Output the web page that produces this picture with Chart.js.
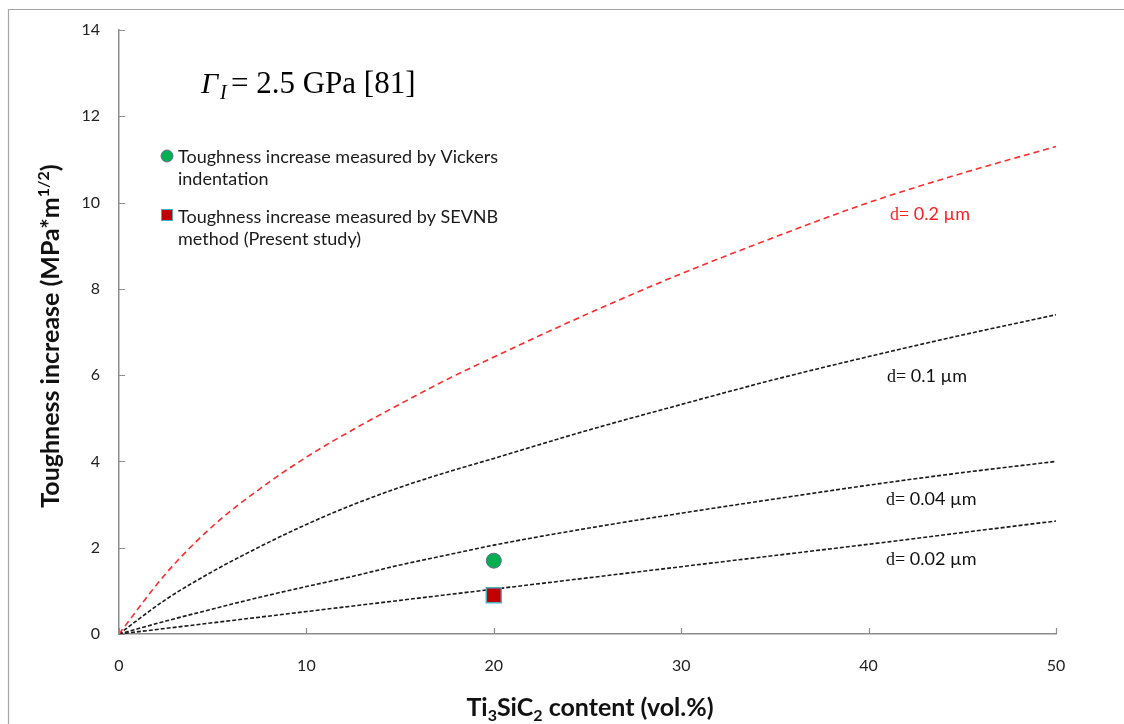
<!DOCTYPE html>
<html>
<head>
<meta charset="utf-8">
<title>Toughness increase vs Ti3SiC2 content</title>
<script src="https://cdn.jsdelivr.net/npm/chart.js@4/dist/chart.umd.min.js"></script>
<style>
  html, body { margin: 0; padding: 0; background: #ffffff; }
  #wrap { position: relative; width: 1124px; height: 724px; }
</style>
</head>
<body>
<div id="wrap"><canvas id="chart" width="1124" height="724"></canvas></div>
<script>
// Ti3SiC2 content (vol.%) at which the model curves are sampled
const contentPct = [0, 2.5, 5, 7.5, 10, 12.5, 15, 17.5, 20, 25, 30, 35, 40, 45, 50];

// Predicted toughness increase (MPa*m^1/2) for each particle size d
const toughnessD020 = [0, 1.40, 2.50, 3.36, 4.10, 4.74, 5.33, 5.90, 6.42, 7.42, 8.35, 9.20, 10.00, 10.68, 11.30];
const toughnessD010 = [0, 0.80, 1.45, 2.02, 2.54, 3.00, 3.40, 3.75, 4.07, 4.72, 5.32, 5.90, 6.43, 6.93, 7.40];
const toughnessD004 = [0, 0.30, 0.58, 0.85, 1.10, 1.34, 1.60, 1.83, 2.06, 2.45, 2.80, 3.13, 3.45, 3.74, 4.00];
const toughnessD002 = [0, 0.13, 0.26, 0.39, 0.52, 0.65, 0.78, 0.91, 1.04, 1.30, 1.56, 1.82, 2.08, 2.35, 2.62];

// Measured toughness increase at 20 vol.% Ti3SiC2
const measuredContent = [20];
const vickersToughness = [1.7];
const sevnbToughness = [0.9];

// Axis ticks
const xTickValues = [0, 10, 20, 30, 40, 50];
const yTickValues = [0, 2, 4, 6, 8, 10, 12, 14];

// Curve captions
const curveLabels = ['d= 0.2 \u00b5m', 'd= 0.1 \u00b5m', 'd= 0.04 \u00b5m', 'd= 0.02 \u00b5m'];

const toPoints = (xs, ys) => xs.map((x, i) => ({ x: x, y: ys[i] }));

const SANS = 'Lato, "Open Sans", "Liberation Sans", sans-serif';
const SERIF = '"Liberation Serif", "DejaVu Serif", serif';
const AXIS_COLOR = '#8c8c8c';

function curveDataset(values, color, dash) {
  return {
    type: 'line',
    data: toPoints(contentPct, values),
    borderColor: color,
    borderWidth: 1.6,
    borderDash: dash,
    pointRadius: 0,
    fill: false,
    cubicInterpolationMode: 'monotone',
    order: 2
  };
}

// Draws the frame, inward tick marks, headline, legend, captions and axis titles
const annotations = {
  id: 'annotations',
  afterDraw(chart) {
    const ctx = chart.ctx;
    const area = chart.chartArea;
    const xs = chart.scales.x;
    const ys = chart.scales.y;
    ctx.save();

    // outer frame (left and top edges)
    ctx.strokeStyle = '#a6a6a6';
    ctx.lineWidth = 1.2;
    ctx.beginPath();
    ctx.moveTo(8.5, 724);
    ctx.lineTo(8.5, 9.5);
    ctx.lineTo(1124, 9.5);
    ctx.stroke();

    // inward tick marks
    ctx.strokeStyle = AXIS_COLOR;
    ctx.lineWidth = 1.2;
    ctx.beginPath();
    yTickValues.forEach(v => {
      const py = Math.round(ys.getPixelForValue(v)) + 0.5;
      ctx.moveTo(area.left, py);
      ctx.lineTo(area.left + 6, py);
    });
    xTickValues.forEach(v => {
      const px = Math.round(xs.getPixelForValue(v)) + 0.5;
      ctx.moveTo(px, area.bottom);
      ctx.lineTo(px, area.bottom - 6);
    });
    ctx.stroke();

    // headline: Gamma_I = 2.5 GPa [81]
    ctx.fillStyle = '#000000';
    ctx.textBaseline = 'alphabetic';
    ctx.textAlign = 'left';
    ctx.font = 'italic 30px ' + SERIF;
    ctx.fillText('\u0393', 201, 93);
    ctx.font = 'italic 20px ' + SERIF;
    ctx.fillText('I', 220, 99);
    ctx.font = '31px ' + SERIF;
    ctx.fillText('= 2.5 GPa [81]', 231, 93);

    // legend
    ctx.beginPath();
    ctx.arc(167, 156, 6, 0, Math.PI * 2);
    ctx.fillStyle = '#00b050';
    ctx.fill();
    ctx.strokeStyle = '#6f6a8f';
    ctx.lineWidth = 1;
    ctx.stroke();
    ctx.fillStyle = '#c00000';
    ctx.fillRect(161, 209, 12, 12);
    ctx.strokeStyle = '#4bacc6';
    ctx.strokeRect(161.5, 209.5, 11, 11);

    ctx.fillStyle = '#1a1a1a';
    ctx.font = '18px ' + SANS;
    ctx.fillText('Toughness increase measured by Vickers', 178, 163);
    ctx.fillText('indentation', 178, 185);
    ctx.fillText('Toughness increase measured by SEVNB', 178, 223);
    ctx.fillText('method (Present study)', 178, 245);

    // curve captions: serif "d=" followed by sans value
    const captionPos = [[890, 220, '#ff2020'], [887, 382, '#111111'], [886, 505, '#111111'], [886, 565, '#111111']];
    captionPos.forEach((p, i) => {
      const txt = curveLabels[i];
      const head = txt.slice(0, 2);
      const tail = txt.slice(2);
      ctx.fillStyle = p[2];
      ctx.font = '18px ' + SERIF;
      ctx.fillText(head, p[0], p[1]);
      const w = ctx.measureText(head).width;
      ctx.font = '18px ' + SANS;
      ctx.fillText(tail, p[0] + w, p[1]);
    });

    // x axis title: Ti3SiC2 content (vol.%)
    ctx.fillStyle = '#111111';
    const xParts = [['Ti', 0], ['3', 1], ['SiC', 0], ['2', 1], [' content (vol.%)', 0]];
    const bigX = 'bold 25px ' + SANS;
    const subX = 'bold 16px ' + SANS;
    let total = 0;
    xParts.forEach(p => { ctx.font = p[1] ? subX : bigX; total += ctx.measureText(p[0]).width; });
    let cx = 590 - total / 2;
    xParts.forEach(p => {
      ctx.font = p[1] ? subX : bigX;
      ctx.fillText(p[0], cx, p[1] ? 721 : 716);
      cx += ctx.measureText(p[0]).width;
    });

    // y axis title: Toughness increase (MPa*m^1/2)
    ctx.save();
    ctx.translate(59, 336);
    ctx.rotate(-Math.PI / 2);
    const yParts = [['Toughness increase (MPa*m', 0], ['1/2', 1], [')', 0]];
    const subY = 'bold 16px ' + SANS;
    total = 0;
    yParts.forEach(p => { ctx.font = p[1] ? subY : bigX; total += ctx.measureText(p[0]).width; });
    cx = -total / 2;
    yParts.forEach(p => {
      ctx.font = p[1] ? subY : bigX;
      ctx.fillText(p[0], cx, p[1] ? -10 : 0);
      cx += ctx.measureText(p[0]).width;
    });
    ctx.restore();

    ctx.restore();
  }
};

new Chart(document.getElementById('chart'), {
  type: 'scatter',
  data: {
    datasets: [
      {
        label: 'Toughness increase measured by Vickers indentation',
        data: toPoints(measuredContent, vickersToughness),
        pointStyle: 'circle',
        pointRadius: 7.5,
        backgroundColor: '#00b050',
        borderColor: '#6f6a8f',
        borderWidth: 1,
        order: 0
      },
      {
        label: 'Toughness increase measured by SEVNB method (Present study)',
        data: toPoints(measuredContent, sevnbToughness),
        pointStyle: 'rect',
        pointRadius: 10.6,
        backgroundColor: '#c00000',
        borderColor: '#4bacc6',
        borderWidth: 1.5,
        order: 0
      },
      Object.assign(curveDataset(toughnessD020, '#ff2b2b', [6, 4]), { label: curveLabels[0] }),
      Object.assign(curveDataset(toughnessD010, '#1a1a1a', [4, 2]), { label: curveLabels[1] }),
      Object.assign(curveDataset(toughnessD004, '#1a1a1a', [4, 2]), { label: curveLabels[2] }),
      Object.assign(curveDataset(toughnessD002, '#1a1a1a', [4, 2]), { label: curveLabels[3] })
    ]
  },
  options: {
    responsive: false,
    animation: false,
    events: [],
    layout: { padding: { top: 30, right: 68, left: 0, bottom: 0 } },
    plugins: {
      legend: { display: false },
      tooltip: { enabled: false },
      title: { display: false }
    },
    scales: {
      x: {
        type: 'linear',
        min: 0,
        max: 50,
        afterBuildTicks: s => { s.ticks = xTickValues.map(v => ({ value: v })); },
        afterFit: s => { s.height = 90; },
        grid: { display: false, drawTicks: false },
        border: { display: true, color: AXIS_COLOR, width: 1.5 },
        ticks: {
          padding: 22,
          maxRotation: 0,
          color: '#222222',
          font: { family: SANS, size: 16 }
        }
      },
      y: {
        type: 'linear',
        min: 0,
        max: 14,
        afterBuildTicks: s => { s.ticks = yTickValues.map(v => ({ value: v })); },
        afterFit: s => { s.width = 119; },
        grid: { display: false, drawTicks: false },
        border: { display: true, color: AXIS_COLOR, width: 1.5 },
        ticks: {
          padding: 19,
          color: '#222222',
          font: { family: SANS, size: 16 }
        }
      }
    }
  },
  plugins: [annotations]
});
</script>
</body>
</html>
